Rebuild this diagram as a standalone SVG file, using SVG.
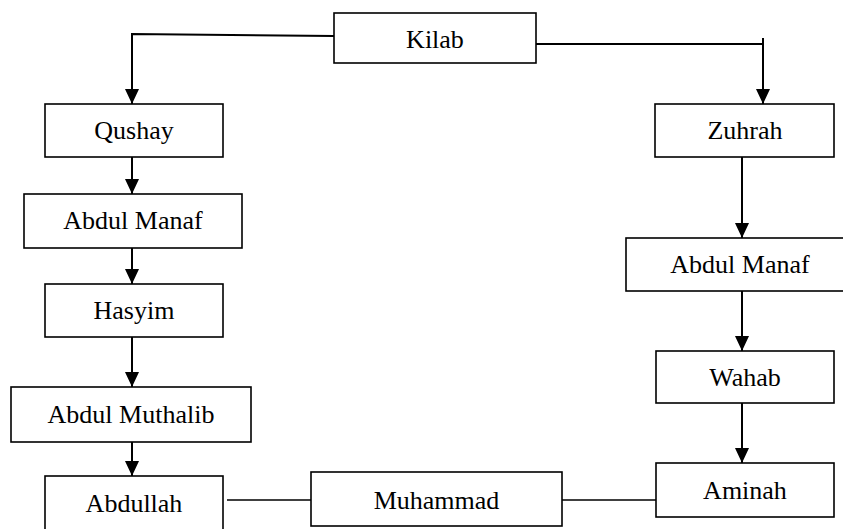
<svg xmlns="http://www.w3.org/2000/svg" width="843" height="529" viewBox="0 0 843 529">
<style>
.box{fill:#fff;stroke:#000;stroke-width:1.6}
.lbl{font-family:"Liberation Serif","Times New Roman",serif;font-size:26px;fill:#000;text-anchor:middle}
.c{fill:none;stroke:#000;stroke-width:2}
.t{fill:none;stroke:#000;stroke-width:1.4}
</style>
<defs>
<marker id="ah" markerUnits="userSpaceOnUse" markerWidth="16" markerHeight="16" viewBox="0 0 16 16" refX="8" refY="15" orient="auto-start-reverse">
<path d="M1,0 L15,0 L8,15 Z" fill="#000" transform="rotate(-90 8 8)"/>
</marker>
<marker id="ad" markerUnits="userSpaceOnUse" markerWidth="16" markerHeight="16" viewBox="0 0 16 16" refX="8" refY="15" orient="0">
<path d="M1,0 L15,0 L8,15 Z" fill="#000"/>
</marker>
</defs>
<g id="connectors">
<polyline class="c" points="334,36 132,34 132,104" marker-end="url(#ad)"/>
<polyline class="c" points="536,44 763,44"/>
<line class="c" x1="763" y1="38" x2="763" y2="104" marker-end="url(#ad)"/>
<line class="c" x1="132" y1="157" x2="132" y2="194" marker-end="url(#ad)"/>
<line class="c" x1="132" y1="248" x2="132" y2="284" marker-end="url(#ad)"/>
<line class="c" x1="132" y1="337" x2="132" y2="387" marker-end="url(#ad)"/>
<line class="c" x1="132" y1="442" x2="132" y2="476" marker-end="url(#ad)"/>
<line class="c" x1="742" y1="157" x2="742" y2="238" marker-end="url(#ad)"/>
<line class="c" x1="742" y1="291" x2="742" y2="351" marker-end="url(#ad)"/>
<line class="c" x1="742" y1="403" x2="742" y2="463" marker-end="url(#ad)"/>
<line class="t" x1="227" y1="500" x2="311" y2="500"/>
<line class="t" x1="562" y1="500" x2="656" y2="500"/>
</g>
<g id="kilab"><rect class="box" x="334" y="13" width="202" height="50"/><text class="lbl" x="435" y="48">Kilab</text></g>
<g id="qushay"><rect class="box" x="45" y="104" width="178" height="53"/><text class="lbl" x="134" y="139">Qushay</text></g>
<g id="abdul-manaf-l"><rect class="box" x="24" y="194" width="218" height="54"/><text class="lbl" x="133" y="229">Abdul Manaf</text></g>
<g id="hasyim"><rect class="box" x="45" y="284" width="178" height="53"/><text class="lbl" x="134" y="319">Hasyim</text></g>
<g id="abdul-muthalib"><rect class="box" x="11" y="387" width="240" height="55"/><text class="lbl" x="131" y="423">Abdul Muthalib</text></g>
<g id="abdullah"><rect class="box" x="45" y="476" width="178" height="58"/><text class="lbl" x="134" y="512">Abdullah</text></g>
<g id="muhammad"><rect class="box" x="311" y="472" width="251" height="54"/><text class="lbl" x="436.5" y="509">Muhammad</text></g>
<g id="zuhrah"><rect class="box" x="655" y="104" width="179" height="53"/><text class="lbl" x="745" y="139">Zuhrah</text></g>
<g id="abdul-manaf-r"><rect class="box" x="626" y="238" width="230" height="53"/><text class="lbl" x="740" y="273">Abdul Manaf</text></g>
<g id="wahab"><rect class="box" x="656" y="351" width="178" height="52"/><text class="lbl" x="745" y="386">Wahab</text></g>
<g id="aminah"><rect class="box" x="656" y="463" width="178" height="54"/><text class="lbl" x="745" y="499">Aminah</text></g>
</svg>
